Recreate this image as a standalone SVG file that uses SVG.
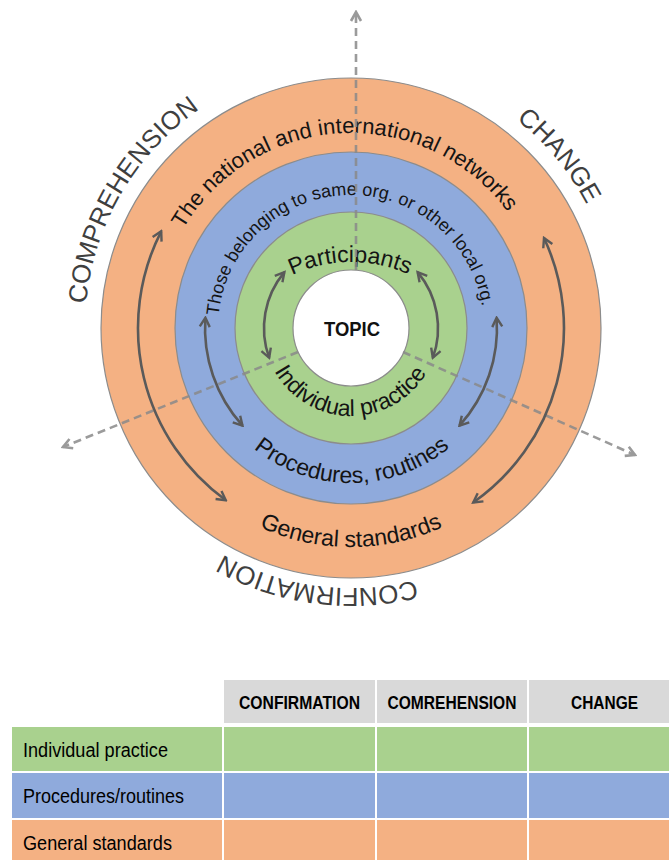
<svg xmlns="http://www.w3.org/2000/svg" width="669" height="860" viewBox="0 0 669 860">
  <defs>
    <style>
      .ring{stroke:#8c8c8c;stroke-width:1.2}
      .lbl{font-family:"Liberation Sans",Arial,sans-serif;fill:#141414}
      .outer{font-family:"Liberation Sans",Arial,sans-serif;font-size:26px;fill:#3f3f3f}
      .flow{fill:none;stroke:#5a5a5a;stroke-width:2.6;marker-start:url(#head);marker-end:url(#head)}
      .axis{fill:none;stroke:#8a8a8a;stroke-opacity:0.85;stroke-width:2.6;stroke-dasharray:8 5;marker-end:url(#axisHead)}
      .tbl{font-family:"Liberation Sans Narrow","Liberation Sans",Arial,sans-serif;fill:#000}
      .hdr{font-family:"Liberation Sans Narrow","Liberation Sans",Arial,sans-serif;font-weight:bold;font-size:18px;fill:#000;text-anchor:middle}
    </style>
    <marker id="head" viewBox="-11 -7 13 14" markerWidth="13" markerHeight="14" refX="0" refY="0" orient="auto-start-reverse" markerUnits="userSpaceOnUse">
      <path d="M-9,-5 L0,0 L-9,5" fill="none" stroke="#5a5a5a" stroke-width="2.4"/>
    </marker>
    <marker id="axisHead" viewBox="-11 -7 13 14" markerWidth="13" markerHeight="14" refX="0" refY="0" orient="auto" markerUnits="userSpaceOnUse">
      <path d="M-9,-5 L0,0 L-9,5" fill="none" stroke="#9a9a9a" stroke-width="2.6"/>
    </marker>
    <!-- clockwise circles starting at 3 o'clock: glyphs face outward -->
    <path id="cw195" d="M546,328 A195,195 0 1 1 156,328 A195,195 0 1 1 546,328"/>
    <path id="cw133" d="M484,328 A133,133 0 1 1 218,328 A133,133 0 1 1 484,328"/>
    <path id="cwTop" d="M489,400 A138,138 0 1 1 213,400 A138,138 0 1 1 489,400"/>
    <path id="cw266" d="M617,328 A266,266 0 1 1 85,328 A266,266 0 1 1 617,328"/>
    <path id="cw260" d="M611,328 A260,260 0 1 1 91,328 A260,260 0 1 1 611,328"/>
    <!-- counter-clockwise circles starting at 9 o'clock: glyphs face inward -->
    <path id="ccw88" d="M263,328 A88,88 0 1 0 439,328 A88,88 0 1 0 263,328"/>
    <path id="ccw155" d="M196,328 A155,155 0 1 0 506,328 A155,155 0 1 0 196,328"/>
    <path id="ccw219" d="M132,328 A219,219 0 1 0 570,328 A219,219 0 1 0 132,328"/>
  </defs>

  <rect width="669" height="860" fill="#fff"/>

  <!-- concentric rings -->
  <g id="ring-networks">
    <circle class="ring" cx="351" cy="328" r="250" fill="#F4B183"/>
    <text class="lbl" font-size="22"><textPath href="#cw195" startOffset="74.17%" text-anchor="middle">The national and international networks</textPath></text>
    <text class="lbl" font-size="23"><textPath href="#ccw219" startOffset="25%" text-anchor="middle">General standards</textPath></text>
  </g>
  <g id="ring-organisation">
    <circle class="ring" cx="351" cy="328" r="176" fill="#8FAADC"/>
    <text class="lbl" font-size="18"><textPath href="#cw133" startOffset="74.44%" text-anchor="middle">Those belonging to same org. or other local org.</textPath></text>
    <text class="lbl" font-size="23"><textPath href="#ccw155" startOffset="25.1%" text-anchor="middle">Procedures, routines</textPath></text>
  </g>
  <g id="ring-participants">
    <circle class="ring" cx="351" cy="328" r="116" fill="#A9D18E"/>
    <text class="lbl" font-size="23"><textPath href="#cwTop" startOffset="74.9%" text-anchor="middle">Participants</textPath></text>
    <text class="lbl" font-size="23"><textPath href="#ccw88" startOffset="24.8%" text-anchor="middle">Individual practice</textPath></text>
  </g>
  <g id="topic">
    <circle class="ring" cx="351" cy="328" r="58" fill="#fff"/>
    <text x="352" y="336" font-family="Liberation Sans, Arial, sans-serif" font-weight="bold" font-size="20" text-anchor="middle" textLength="56" lengthAdjust="spacingAndGlyphs" fill="#111">TOPIC</text>
  </g>

  <!-- direction labels around the rings -->
  <g id="label-comprehension">
    <text class="outer"><textPath href="#cw266" startOffset="58.4%" text-anchor="middle">COMPREHENSION</textPath></text>
  </g>
  <g id="label-change">
    <text class="outer"><textPath href="#cw266" startOffset="89%" text-anchor="middle">CHANGE</textPath></text>
  </g>
  <g id="label-confirmation">
    <text class="outer"><textPath href="#cw260" startOffset="27.1%" text-anchor="middle">CONFIRMATION</textPath></text>
  </g>

  <!-- connectors: dashed axes and two-way flow arcs -->
  <g id="connectors">
    <path class="axis" d="M356,270 L356,12"/>
    <path class="axis" d="M298,352 L63,447"/>
    <path class="axis" d="M403,352 L635,455"/>

    <path class="flow" d="M269.2,357.8 A87,87 0 0 1 284.4,272.1"/>
    <path class="flow" d="M417.6,272.1 A87,87 0 0 1 432.8,357.8"/>
    <path class="flow" d="M242.5,425.7 A146,146 0 0 1 205.4,317.8"/>
    <path class="flow" d="M496.6,317.8 A146,146 0 0 1 459.5,425.7"/>
    <path class="flow" d="M225.8,500.3 A213,213 0 0 1 161.2,231.3"/>
    <path class="flow" d="M544,238 A213,213 0 0 1 473.2,502.5"/>
  </g>

  <!-- summary table -->
  <g id="table">
    <rect x="224" y="680" width="151" height="43" fill="#D9D9D9"/>
    <rect x="377" y="680" width="150" height="43" fill="#D9D9D9"/>
    <rect x="529" y="680" width="151" height="43" fill="#D9D9D9"/>
    <text class="hdr" x="299.5" y="708.5" textLength="121" lengthAdjust="spacingAndGlyphs">CONFIRMATION</text>
    <text class="hdr" x="452" y="708.5" textLength="129" lengthAdjust="spacingAndGlyphs">COMREHENSION</text>
    <text class="hdr" x="604.5" y="708.5" textLength="67" lengthAdjust="spacingAndGlyphs">CHANGE</text>

    <g fill="#A9D18E">
      <rect x="12" y="727" width="210" height="44"/>
      <rect x="224" y="727" width="151" height="44"/>
      <rect x="377" y="727" width="150" height="44"/>
      <rect x="529" y="727" width="151" height="44"/>
    </g>
    <g fill="#8FAADC">
      <rect x="12" y="773" width="210" height="45"/>
      <rect x="224" y="773" width="151" height="45"/>
      <rect x="377" y="773" width="150" height="45"/>
      <rect x="529" y="773" width="151" height="45"/>
    </g>
    <g fill="#F4B183">
      <rect x="12" y="820" width="210" height="40"/>
      <rect x="224" y="820" width="151" height="40"/>
      <rect x="377" y="820" width="150" height="40"/>
      <rect x="529" y="820" width="151" height="40"/>
    </g>
    <text class="tbl" x="23" y="757" font-size="20" textLength="145" lengthAdjust="spacingAndGlyphs">Individual practice</text>
    <text class="tbl" x="23" y="803" font-size="20" textLength="161" lengthAdjust="spacingAndGlyphs">Procedures/routines</text>
    <text class="tbl" x="23" y="850" font-size="20" textLength="149" lengthAdjust="spacingAndGlyphs">General standards</text>
  </g>
</svg>
